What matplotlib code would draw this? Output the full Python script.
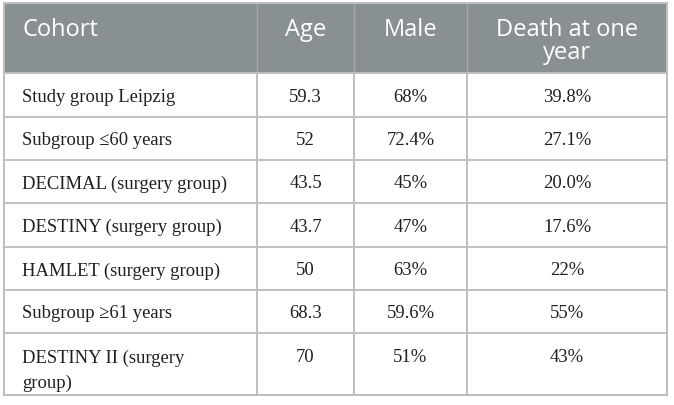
import matplotlib
matplotlib.use("Agg")
import matplotlib.pyplot as plt
from matplotlib.patches import Rectangle

headers = ["Cohort", "Age", "Male", "Death at one\nyear"]
cohorts = ["Study group Leipzig", "Subgroup \u226460 years", "DECIMAL (surgery group)",
           "DESTINY (surgery group)", "HAMLET (surgery group)", "Subgroup \u226561 years",
           "DESTINY II (surgery\ngroup)"]
age = ["59.3", "52", "43.5", "43.7", "50", "68.3", "70"]
male = ["68%", "72.4%", "45%", "47%", "63%", "59.6%", "51%"]
death = ["39.8%", "27.1%", "20.0%", "17.6%", "22%", "55%", "43%"]

W, H = 674, 406
fig = plt.figure(figsize=(W / 100, H / 100), dpi=100)
ax = fig.add_axes([0, 0, 1, 1])
ax.set_xlim(0, W)
ax.set_ylim(H, 0)
ax.axis("off")

col_x = [4, 257, 354, 467, 667]
row_y = [4, 74, 118, 161, 204, 248, 291, 334, 396]

header_color = "#899093"
grid_color = "#bdbfc0"

ax.add_patch(Rectangle((col_x[0], row_y[0]), col_x[-1] - col_x[0], row_y[1] - row_y[0],
                       facecolor=header_color, edgecolor="none", zorder=1))
for x in col_x[1:-1]:
    ax.plot([x, x], [row_y[0], row_y[1]], color="#a4a9ab", lw=1.0, zorder=2)

for y in row_y[1:-1]:
    ax.plot([col_x[0], col_x[-1]], [y, y], color=grid_color, lw=1.4, zorder=2)
for x in col_x[1:-1]:
    ax.plot([x, x], [row_y[1], row_y[-1]], color=grid_color, lw=1.4, zorder=2)
ax.add_patch(Rectangle((col_x[0], row_y[0]), col_x[-1] - col_x[0], row_y[-1] - row_y[0],
                       facecolor="none", edgecolor=grid_color, lw=1.5, zorder=3))

hfont = dict(family=["Open Sans", "DejaVu Sans"], fontsize=17, color="white")
bfont = dict(family=["Liberation Serif", "DejaVu Serif"], fontsize=13.4, color="#1f1f1f")

HEAD_LINE1 = 30
HEAD_STEP = 23
BODY_STEP = 25

for i, h in enumerate(headers):
    for k, line in enumerate(h.split("\n")):
        y = HEAD_LINE1 + k * HEAD_STEP
        if i == 0:
            ax.text(col_x[0] + 19, y, line, ha="left", va="center", **hfont, zorder=4)
        else:
            cx = (col_x[i] + col_x[i + 1]) / 2
            ax.text(cx, y, line, ha="center", va="center", **hfont, zorder=4)

cols = [age, male, death]
for r in range(len(cohorts)):
    lines = cohorts[r].split("\n")
    if len(lines) > 1:
        y0 = row_y[r + 1] + 24
    else:
        y0 = (row_y[r + 1] + row_y[r + 2]) / 2 + 1.5
    for k, line in enumerate(lines):
        ax.text(col_x[0] + 18, y0 + k * BODY_STEP, line, ha="left", va="center",
                **bfont, zorder=4)
    for c in range(3):
        cx = (col_x[c + 1] + col_x[c + 2]) / 2
        ax.text(cx, y0, cols[c][r], ha="center", va="center", **bfont, zorder=4)

fig.savefig("out.png", dpi=100, facecolor="white")
